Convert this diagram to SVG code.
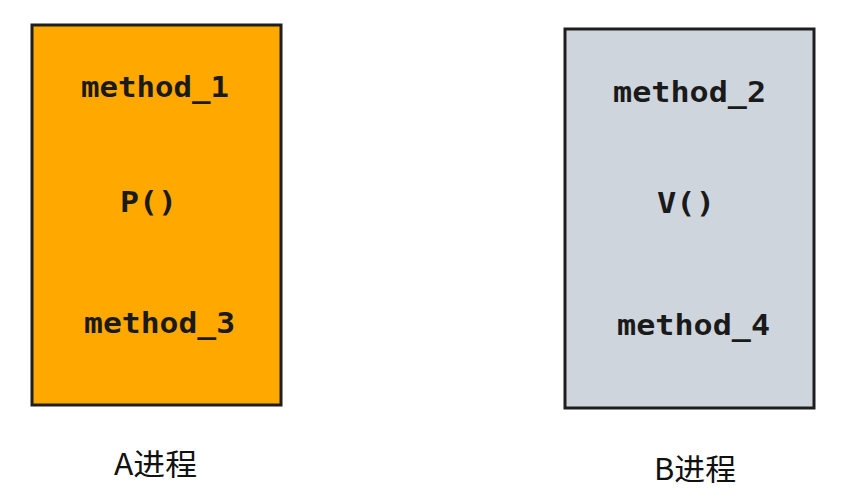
<svg xmlns="http://www.w3.org/2000/svg" width="846" height="504" viewBox="0 0 846 504">
<style>
.box{stroke:#1e1e1e;stroke-width:3}
.a{fill:#FFA800}
.b{fill:#CFD5DD}
.m{font-family:"DejaVu Sans Mono","Liberation Mono",monospace;font-weight:bold;font-size:28px;fill:#1a1a1a}
.lbl{font-family:"Noto Sans CJK SC","Noto Sans",sans-serif;font-size:30px;fill:#111}
</style>
<rect width="846" height="504" fill="#ffffff"/>
<g id="procA">
<rect class="box a" x="32" y="25" width="249" height="380"/>
<text class="m" x="81" y="97" textLength="148" lengthAdjust="spacingAndGlyphs">method_1</text>
<text class="m" x="120" y="212" textLength="57" lengthAdjust="spacingAndGlyphs">P()</text>
<text class="m" x="84" y="333" textLength="151" lengthAdjust="spacingAndGlyphs">method_3</text>
</g>
<g id="procB">
<rect class="box b" x="565" y="29" width="249" height="379"/>
<text class="m" x="613" y="102" textLength="153" lengthAdjust="spacingAndGlyphs">method_2</text>
<text class="m" x="657" y="213" textLength="58" lengthAdjust="spacingAndGlyphs">V()</text>
<text class="m" x="617" y="335" textLength="153" lengthAdjust="spacingAndGlyphs">method_4</text>
</g>
<g id="labelA">
<text class="lbl" x="114" y="475" textLength="83" lengthAdjust="spacingAndGlyphs">A进程</text>
</g>
<g id="labelB">
<text class="lbl" x="654" y="480" textLength="82" lengthAdjust="spacingAndGlyphs">B进程</text>
</g>
<g id="connectors"></g>
</svg>
